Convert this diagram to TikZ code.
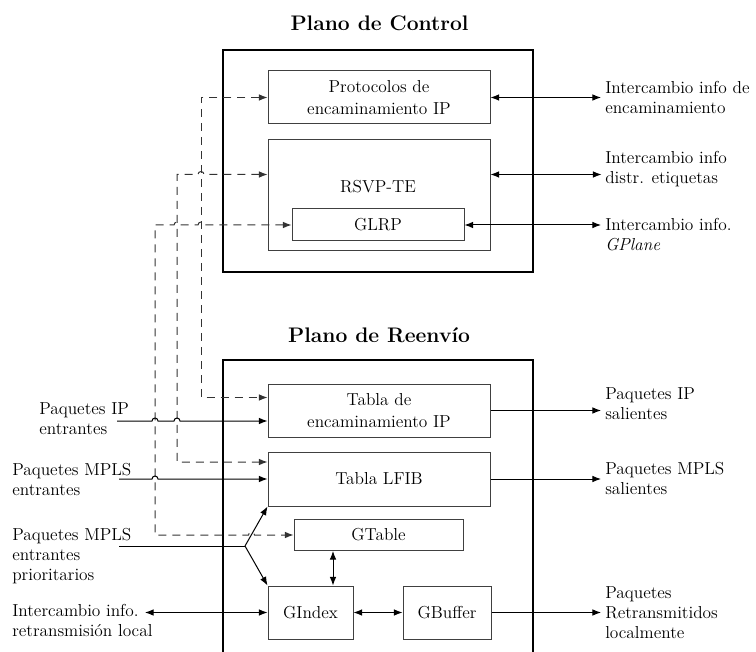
\documentclass[tikz,border=0pt]{standalone}
\usepackage{tikz}
\usetikzlibrary{arrows.meta,calc}

\newcommand{\px}{0.75pt}
% small bump where a line jumps over another one
\newcommand{\hopR}[2]{-- ({#1-3},#2) arc[start angle=180,end angle=360,radius=3]}
\newcommand{\hopL}[2]{-- ({#1+3},#2) arc[start angle=0,end angle=-180,radius=3]}

\begin{document}
\begin{tikzpicture}[x=0.75pt,y=-0.75pt,
  >={Latex[length=6.5pt,width=5pt]},
  txt/.style={font=\fontsize{13}{15}\selectfont, inner sep=0pt},
  lbl/.style={txt, align=left, anchor=west},
  blk/.style={draw=black!75, line width=0.75pt, inner sep=0pt, align=center,
    font=\fontsize{13}{16.5}\selectfont},
  ttl/.style={font=\fontsize{15.8}{18}\selectfont\bfseries, inner sep=0pt},
  plane/.style={draw, line width=1.5pt},
  dline/.style={dash pattern=on 6pt off 4.5pt, draw=black!80, line width=0.75pt},
  conn/.style={line width=0.75pt}]
  \useasboundingbox (0,0) rectangle (756,652);

  \node[ttl] (ctitle) at (379.5,23) {Plano de Control};
  \draw[plane] (222.5,50.5) rectangle (533,271.5);
  \node[ttl] (ftitle) at (379,335) {Plano de Reenvío};
  \draw[plane] (222.5,652) |- (533,360) -- (533,652);

  % control plane
  \node[blk, minimum width=222*\px, minimum height=53*\px] (proto) at (379,97.5) {Protocolos de\\encaminamiento IP};
  \node[blk, minimum width=222*\px, minimum height=111*\px] (rsvp) at (379,195.5) {};
  \node[txt] (rsvplbl) at (378,186.5) {RSVP-TE};
  \node[blk, minimum width=172*\px, minimum height=32*\px] (glrp) at (378,225) {GLRP};

  % forwarding plane
  \node[blk, minimum width=222*\px, minimum height=53*\px] (tip) at (379,410.5) {Tabla de\\encaminamiento IP};
  \node[blk, minimum width=222*\px, minimum height=54*\px] (lfib) at (379,479) {Tabla LFIB};
  \node[blk, minimum width=169*\px, minimum height=31*\px] (gtable) at (378.5,535) {GTable};
  \node[blk, minimum width=85*\px, minimum height=53*\px] (gindex) at (310.5,612.5) {GIndex};
  \node[blk, minimum width=88*\px, minimum height=53*\px] (gbuffer) at (447,612.5) {GBuffer};

  % dashed links between the planes
  \draw[dline,<->] (proto.west) -- (201,97.5) -- (201,397.5) -- ($(tip.west)+(0,-13)$);
  \draw[dline,<->] ($(rsvp.west)+(0,-21)$) \hopL{201}{174.5} -- (177,174.5) -- (177,462) -- ($(lfib.west)+(0,-17)$);
  \draw[dline,<->] (glrp.west) \hopL{201}{225} \hopL{177}{225} -- (155,225) -- (155,535) \hopR{251.5}{535} -- (gtable.west);

  % inputs
  \coordinate (inip) at (117,421);
  \coordinate (inmpls) at (119,479);
  \coordinate (inprio) at (119,546);
  \coordinate (split) at (245,546);
  \coordinate (inret) at (145,612.5);
  \draw[conn,->] (inip) \hopR{155}{421} \hopR{177}{421} -- ($(tip.west)+(0,10.5)$);
  \draw[conn,->] (inmpls) \hopR{155}{479} -- (lfib.west);
  \draw[conn] (inprio) -- (split);
  \draw[conn,->] (split) -- (lfib.south west);
  \draw[conn,->] (split) -- (gindex.north west);
  \draw[conn,<->] (inret) -- (gindex.west);

  \coordinate (gv) at (333,0);
  \draw[conn,<->] (gv |- gindex.north) -- (gv |- gtable.south);
  \draw[conn,<->] (gindex.east) -- (gbuffer.west);

  % outputs
  \coordinate (rx) at (601,0);
  \draw[conn,<->] (proto.east) -- (proto.east -| rx);
  \draw[conn,<->] ($(rsvp.east)+(0,-21)$) -- ++(111,0);
  \draw[conn,<->] (glrp.east) -- (glrp.east -| rx);
  \draw[conn,->] (tip.east) -- (tip.east -| rx);
  \draw[conn,->] (lfib.east) -- (lfib.east -| rx);
  \draw[conn,->] (gbuffer.east) -- (gbuffer.east -| rx);

  \node[lbl] (lbproto) at (605,97.5) {Intercambio info de\\encaminamiento};
  \node[lbl] (lbrsvp) at (605,169.5) {Intercambio info\\distr. etiquetas};
  \node[lbl] (lbglrp) at (605,234.5) {Intercambio info.\\\textit{GPlane}};
  \node[lbl] (lbipout) at (605,404) {Paquetes IP\\salientes};
  \node[lbl] (lbmplsout) at (605,478.5) {Paquetes MPLS\\salientes};
  \node[lbl] (lbretout) at (605,612.5) {Paquetes\\Retransmitidos\\localmente};

  \node[lbl] (lbipin) at (39,418.5) {Paquetes IP\\entrantes};
  \node[lbl] (lbmplsin) at (12,479.5) {Paquetes MPLS\\entrantes};
  \node[lbl] (lbprio) at (12,556) {Paquetes MPLS\\entrantes\\prioritarios};
  \node[lbl] (lbretin) at (12,620.5) {Intercambio info.\\retransmisión local};
\end{tikzpicture}
\end{document}
